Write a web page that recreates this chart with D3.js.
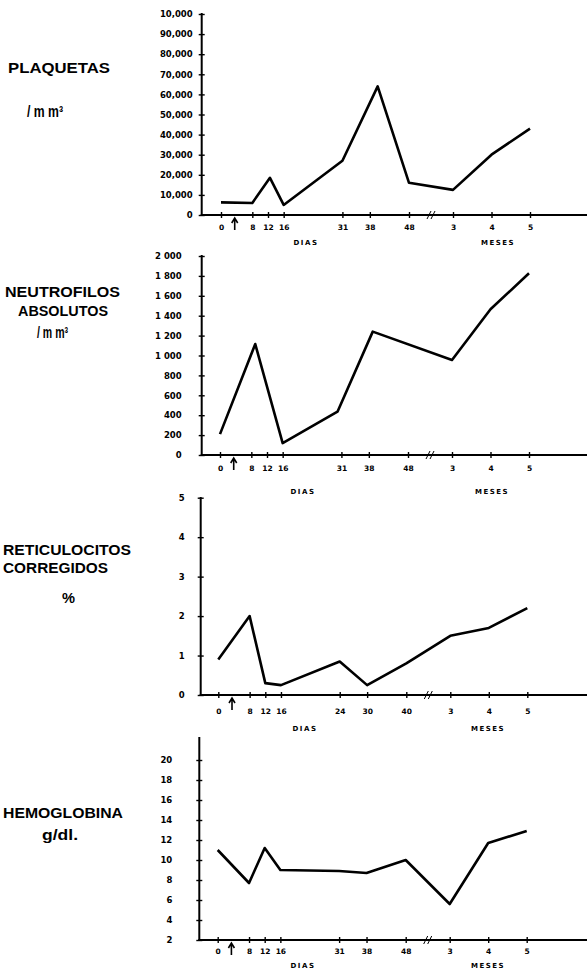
<!DOCTYPE html>
<html>
<head>
<meta charset="utf-8">
<script src="https://cdn.jsdelivr.net/npm/d3@7"></script>
<style>
  body { margin: 0; background: #fff; }
  svg { display: block; }
</style>
</head>
<body>
<svg id="chart" width="588" height="970"></svg>
<script>
// x is in days; the months 3, 4, 5 sit after the axis break as days 90, 120, 150
var tickDays = [0, 8, 12, 16, 31, 38, 48, 90, 120, 150];
var tickLabels = ["0", "8", "12", "16", "31", "38", "48", "3", "4", "5"];
var tickLabelsRet = ["0", "8", "12", "16", "24", "30", "40", "3", "4", "5"];

var plaqDays = [0, 8, 12.5, 16, 31, 40, 48, 90, 120, 150];
var plaqValues = [6300, 6000, 18500, 5000, 27000, 64000, 16000, 12500, 30000, 43000];
var plaqTicks = [0, 10000, 20000, 30000, 40000, 50000, 60000, 70000, 80000, 90000, 100000];
var plaqTickLabels = ["0", "10,000", "20,000", "30,000", "40,000", "50,000", "60,000", "70,000", "80,000", "90,000", "10,000"];

var neutDays = [0, 9, 16, 30, 39, 90, 120, 150];
var neutValues = [210, 1115, 120, 435, 1240, 955, 1465, 1826];
var neutTicks = [0, 200, 400, 600, 800, 1000, 1200, 1400, 1600, 1800, 2000];
var neutTickLabels = ["0", "200", "400", "600", "800", "1 000", "1 200", "1 400", "1 600", "1 800", "2 000"];

var retDays = [0, 8, 12, 16, 31, 38, 48, 90, 120, 150];
var retValues = [0.9, 2.0, 0.3, 0.25, 0.85, 0.25, 0.8, 1.5, 1.7, 2.2];
var retTicks = [0, 1, 2, 3, 4, 5];
var retTickLabels = ["0", "1", "2", "3", "4", "5"];

var hemoDays = [0, 8, 12, 16, 31, 38, 48, 90, 120, 150];
var hemoValues = [11.0, 7.7, 11.2, 9.0, 8.9, 8.7, 10.0, 5.6, 11.7, 12.9];
var hemoTicks = [2, 4, 6, 8, 10, 12, 14, 16, 18, 20];
var hemoTickLabels = ["2", "4", "6", "8", "10", "12", "14", "16", "18", "20"];

var panels = [
  { days: plaqDays, values: plaqValues, ticks: plaqTicks, tickFmt: plaqTickLabels, xLabels: tickLabels,
    domain: [0, 100000], axisX: 201.7, zeroX: 221, top: 14, base: 215, spineTop: 13,
    yPad: 6, xPad: 7, diasY: 245, diasX: 306, mesesX: 498,
    titles: [["PLAQUETAS", 8, 73, 102, 14], ["/ m m³", 27, 117, 36, 16]] },
  { days: neutDays, values: neutValues, ticks: neutTicks, tickFmt: neutTickLabels, xLabels: tickLabels,
    domain: [0, 2000], axisX: 201.7, zeroX: 220, top: 256, base: 455, spineTop: 255,
    yPad: 17, xPad: 8, diasY: 494, diasX: 303, mesesX: 492,
    titles: [["NEUTROFILOS", 5, 297, 115, 14], ["ABSOLUTOS", 18, 316, 90, 14], ["/ m m³", 37, 338, 31, 16]] },
  { days: retDays, values: retValues, ticks: retTicks, tickFmt: retTickLabels, xLabels: tickLabelsRet,
    domain: [0, 5], axisX: 200.7, zeroX: 218.3, top: 497.7, base: 695, spineTop: 497,
    yPad: 13, xPad: 11, diasY: 731, diasX: 305, mesesX: 488,
    titles: [["RETICULOCITOS", 3, 555, 128, 14], ["CORREGIDOS", 3, 573, 105, 14], ["%", 62, 603, 13, 15]] },
  { days: hemoDays, values: hemoValues, ticks: hemoTicks, tickFmt: hemoTickLabels, xLabels: tickLabels,
    domain: [2, 20], axisX: 199.3, zeroX: 217.7, top: 760, base: 940, spineTop: 737,
    yPad: 24, xPad: 6, diasY: 968, diasX: 303, mesesX: 488,
    titles: [["HEMOGLOBINA", 3, 818, 120, 14], ["g/dl.", 42, 840, 36, 15]] }
];

var svg = d3.select("#chart");
var font = "'DejaVu Sans', sans-serif";

panels.forEach(function(p) {
  var x = d3.scaleLinear()
      .domain([0, 48, 90, 150])
      .range([p.zeroX, p.zeroX + 188, p.zeroX + 232, p.zeroX + 309]);
  var y = d3.scaleLinear().domain(p.domain).range([p.base, p.top]);

  var g = svg.append("g");

  // y axis
  var ya = g.append("g")
      .attr("transform", "translate(" + p.axisX + ",0)")
      .call(d3.axisLeft(y).tickValues(p.ticks)
        .tickFormat(function(d, i) { return p.tickFmt[i]; })
        .tickSize(3).tickPadding(p.yPad));
  ya.select(".domain").remove();
  ya.selectAll(".tick line").attr("x1", 3).attr("stroke-width", 1.4);
  ya.selectAll(".tick text")
      .attr("font-family", font).attr("font-weight", "bold").attr("font-size", 8.5);
  g.append("line")
      .attr("x1", p.axisX).attr("x2", p.axisX)
      .attr("y1", p.spineTop).attr("y2", p.base + 1)
      .attr("stroke", "#000").attr("stroke-width", 2);

  // x axis
  var xa = g.append("g")
      .attr("transform", "translate(0," + p.base + ")")
      .call(d3.axisBottom(x).tickValues(tickDays)
        .tickFormat(function(d, i) { return p.xLabels[i]; })
        .tickSize(3).tickPadding(p.xPad));
  xa.select(".domain").remove();
  xa.selectAll(".tick line").attr("y1", -3).attr("stroke-width", 1.4);
  xa.selectAll(".tick text")
      .attr("font-family", font).attr("font-weight", "bold").attr("font-size", 7.5);
  g.append("line")
      .attr("x1", p.axisX - 1).attr("x2", 587)
      .attr("y1", p.base).attr("y2", p.base)
      .attr("stroke", "#000").attr("stroke-width", 2);

  // axis break
  var bx = x(69);
  [-2, 2].forEach(function(o) {
    g.append("line")
        .attr("x1", bx + o - 2).attr("y1", p.base + 4)
        .attr("x2", bx + o + 2).attr("y2", p.base - 4)
        .attr("stroke", "#000").attr("stroke-width", 1);
  });

  // arrow (start of treatment)
  var ax = x(3.5);
  g.append("path")
      .attr("d", "M" + ax + "," + (p.base + 15) + "V" + (p.base + 4) +
                 "M" + (ax - 3) + "," + (p.base + 8) + "L" + ax + "," + (p.base + 3) + "L" + (ax + 3) + "," + (p.base + 8))
      .attr("fill", "none").attr("stroke", "#000").attr("stroke-width", 1.6);

  // DIAS / MESES
  [["DIAS", p.diasX], ["MESES", p.mesesX]].forEach(function(t) {
    g.append("text")
        .attr("x", t[1]).attr("y", p.diasY)
        .attr("text-anchor", "middle")
        .attr("font-family", font).attr("font-weight", "bold").attr("font-size", 7)
        .attr("letter-spacing", 1.5)
        .text(t[0]);
  });

  // data line
  var line = d3.line()
      .x(function(i) { return x(p.days[i]); })
      .y(function(i) { return y(p.values[i]); });
  g.append("path")
      .datum(d3.range(p.values.length))
      .attr("d", line)
      .attr("fill", "none")
      .attr("stroke", "#000")
      .attr("stroke-width", 2.6)
      .attr("stroke-linejoin", "round");

  // titles on the left
  p.titles.forEach(function(t) {
    g.append("text")
        .attr("x", t[1]).attr("y", t[2])
        .attr("font-family", "'Liberation Sans', Arial, sans-serif")
        .attr("font-weight", "bold")
        .attr("font-size", t[4])
        .attr("textLength", t[3])
        .attr("lengthAdjust", "spacingAndGlyphs")
        .text(t[0]);
  });
});
</script>
</body>
</html>
